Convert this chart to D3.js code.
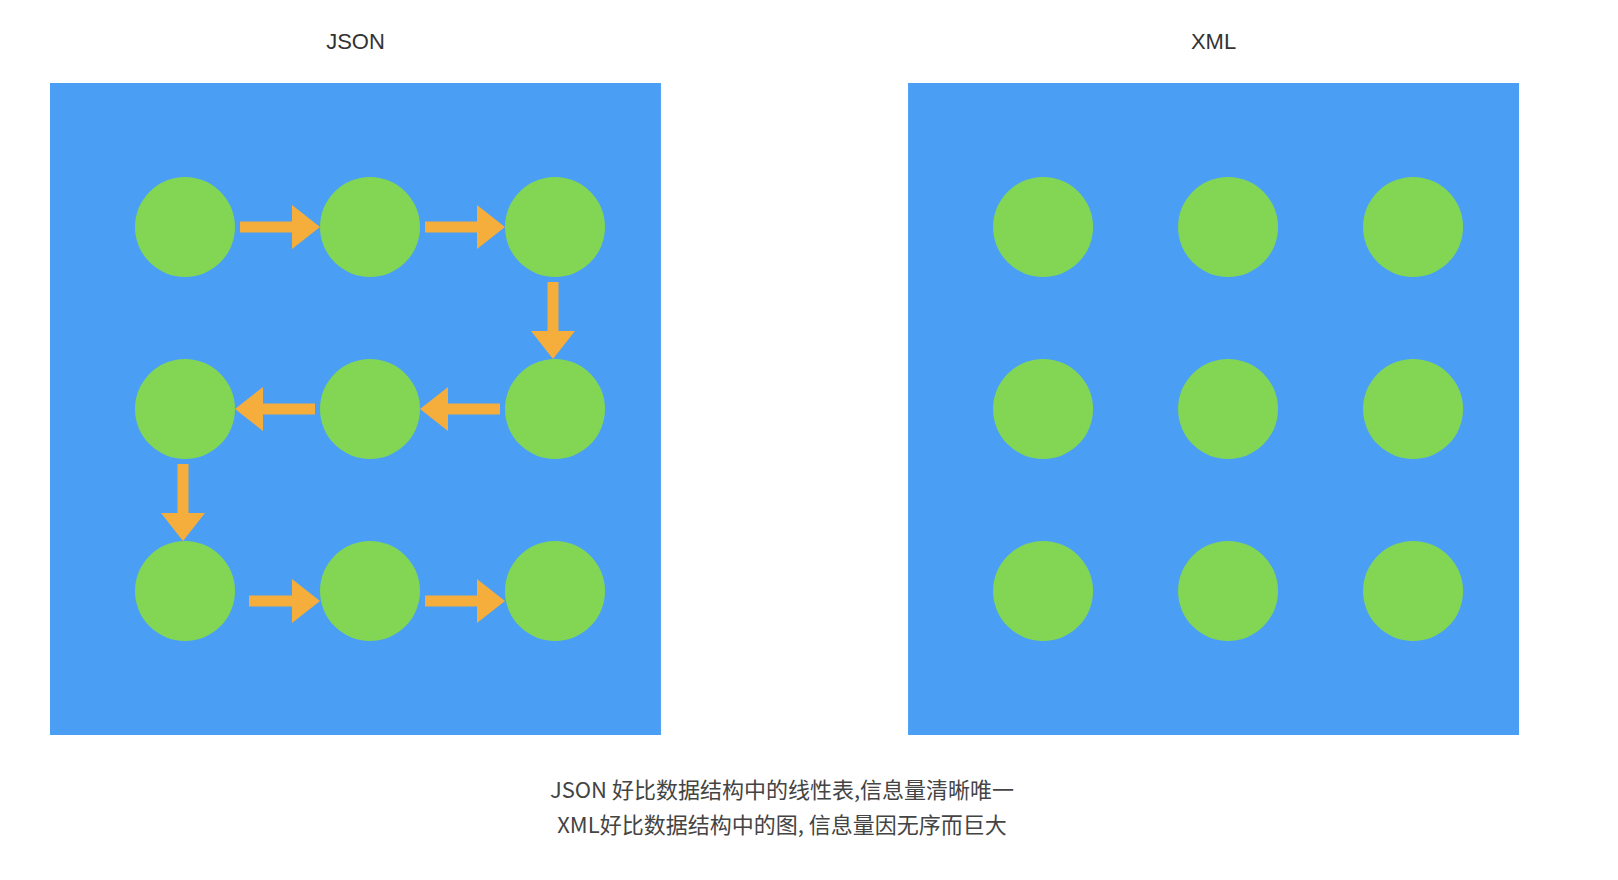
<!doctype html>
<html>
<head>
<meta charset="utf-8"/>
<title>JSON vs XML</title>
<script src="https://d3js.org/d3.v7.min.js"></script>
<style>
body{margin:0;background:#fff;}
</style>
</head>
<body>
<script>
// panels and grid
var panels = ["JSON", "XML"];
var cols = [0, 1, 2];
var rows = [0, 1, 2];
// JSON path: [fromCol, fromRow, toCol, toRow]
var arrows = [
  [0,0,1,0],[1,0,2,0],[2,0,2,1],
  [2,1,1,1],[1,1,0,1],[0,1,0,2],
  [0,2,1,2],[1,2,2,2]
];
var caption = ["JSON 好比数据结构中的线性表,信息量清晰唯一", "XML好比数据结构中的图, 信息量因无序而巨大"];

var svg = d3.select("body").append("svg").attr("width", 1618).attr("height", 880);

var panelX = d3.scaleBand().domain(panels).range([50, 1519]).paddingInner(0.288);
var panelTop = 83, side = 652;
var r = 50;

panels.forEach(function(p){
  var x0 = panelX(p), w = panelX.bandwidth();
  var cx = d3.scalePoint().domain(cols).range([x0+135, x0+505]);
  var cy = d3.scalePoint().domain(rows).range([panelTop+144, panelTop+508]);

  svg.append("text").attr("x", x0+w/2).attr("y", 49).attr("text-anchor","middle")
    .attr("font-family","Helvetica, Arial, 'Liberation Sans', sans-serif").attr("font-size", 22)
    .attr("fill","#333").text(p);
  svg.append("rect").attr("x", x0).attr("y", panelTop).attr("width", w).attr("height", side)
    .attr("fill", "#4a9ff5");

  var cells = [];
  rows.forEach(function(rr){ cols.forEach(function(c){ cells.push([c, rr]); }); });
  svg.selectAll(null).data(cells).enter().append("circle")
    .attr("cx", d => cx(d[0])).attr("cy", d => cy(d[1])).attr("r", r).attr("fill", "#82d653");

  if (p === "JSON") {
    arrows.forEach(function(a, i){
      var x1 = cx(a[0]), y1 = cy(a[1]), x2 = cx(a[2]), y2 = cy(a[3]);
      var dx = Math.sign(x2-x1), dy = Math.sign(y2-y1);
      var gap = (i === 6) ? 64 : 55;
      var sx = x1 + dx*gap, sy = y1 + dy*gap + (i===6||i===7 ? 10 : 0);
      var ex = x2 - dx*r, ey = y2 - dy*r + (i===6||i===7 ? 10 : 0);
      if (dy) { sx -= 2; ex -= 2; }
      var len = Math.hypot(ex-sx, ey-sy), head = 28, hw = 22, sw = 5.5;
      var g = svg.append("g").attr("transform",
        "translate(" + sx + "," + sy + ") rotate(" + (Math.atan2(ey-sy, ex-sx)*180/Math.PI) + ")");
      g.append("path").attr("fill", "#f5ae3b")
        .attr("d", "M0," + (-sw) + "L" + (len-head) + "," + (-sw) + "L" + (len-head) + "," + (-hw) +
          "L" + len + ",0L" + (len-head) + "," + hw + "L" + (len-head) + "," + sw + "L0," + sw + "Z");
    });
  }
});

svg.selectAll(null).data(caption).enter().append("text")
  .attr("x", 782).attr("y", (d,i) => 798 + i*35).attr("text-anchor","middle")
  .attr("font-family","'Noto Sans CJK SC', sans-serif").attr("font-size", 22).attr("fill","#444")
  .text(d => d);
</script>
</body>
</html>
